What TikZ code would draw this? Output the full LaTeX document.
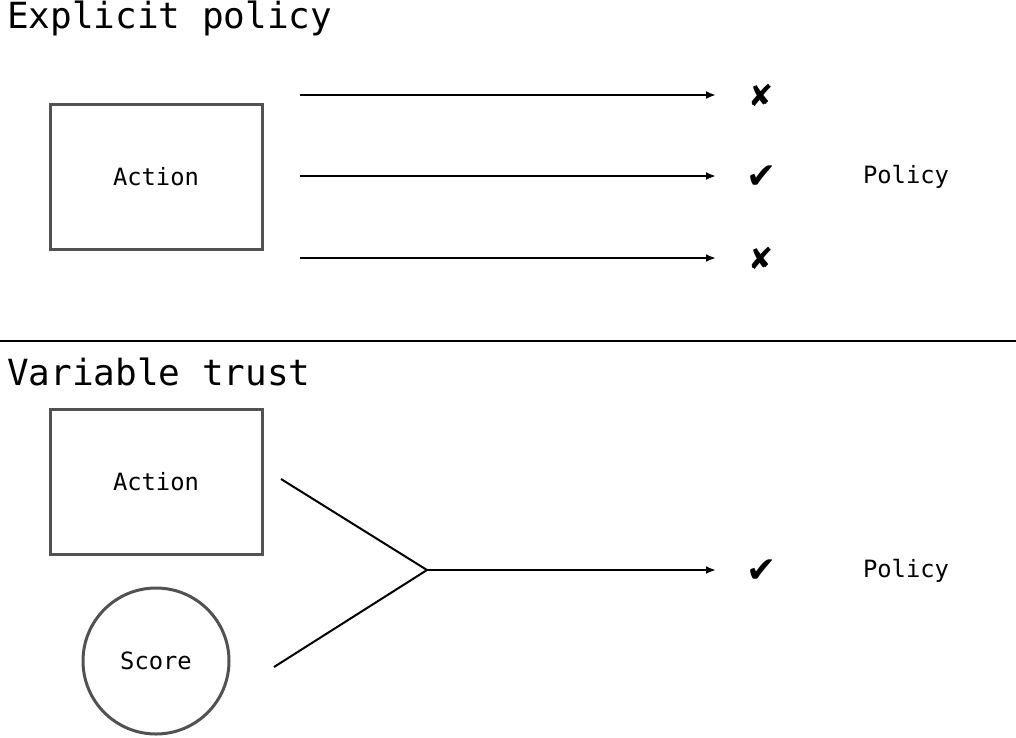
\documentclass[tikz,border=0pt]{standalone}
\usepackage{fontspec}
\setmonofont{DejaVu Sans Mono}
\newfontfamily\markfont{DejaVu Sans}
\usetikzlibrary{arrows.meta,positioning}

\newcommand{\titlefont}{\ttfamily\fontsize{36}{40}\selectfont}
\newcommand{\labfont}{\ttfamily\fontsize{23.8}{28}\selectfont}
\newcommand{\yes}{\markfont\fontsize{36}{38}\selectfont ✔}
\newcommand{\no}{\markfont\fontsize{30}{32}\selectfont ✘}

\begin{document}
\begin{tikzpicture}[x=1pt,y=-1pt,
  sketch/.style={draw=black!68,line width=3pt},
  actbox/.style={sketch,minimum width=212pt,minimum height=145pt,font=\labfont},
  scorering/.style={sketch,circle,minimum size=146pt,font=\labfont},
  heading/.style={anchor=base west,inner sep=0pt,font=\titlefont},
  plain/.style={inner sep=0pt,font=\labfont},
  flow/.style={line width=2pt,-{Latex[length=10pt,width=8pt]}}]
\useasboundingbox (0,0) rectangle (1016,737);

% explicit policy
\node[heading] (t1) at (7,28) {Explicit policy};
\node[actbox] (act1) at (156,177) {Action};
\foreach \i/\y in {1/95,2/176,3/258}{
  \coordinate (s\i) at (300,\y);
  \coordinate (e\i) at (716,\y);
}
\node[inner sep=0pt] (m1) at (761,95) {\no};
\node[inner sep=0pt] (m2) at (762,177) {\yes};
\node[inner sep=0pt] (m3) at (761,258) {\no};
\node[plain] (pol1) at (906,177) {Policy};
\foreach \i in {1,2,3}
  \draw[flow] (s\i) -- (e\i);

% divider
\coordinate (dl) at (0,341);
\coordinate (dr) at (1016,341);
\draw[line width=2pt] (dl) -- (dr);

% variable trust
\node[heading] (t2) at (7,385) {Variable trust};
\node[actbox] (act2) at (156,482) {Action};
\node[scorering] (score) at (156,661) {Score};
\coordinate (a2) at (281,479);
\coordinate (sc) at (274,667);
\coordinate (join) at (427,570);
\coordinate (e4) at (716,570);
\node[inner sep=0pt] (m4) at (762,571) {\yes};
\node[plain] (pol2) at (906,571) {Policy};
\draw[line width=2pt] (a2) -- (join) -- (sc);
\draw[flow] (join) -- (e4);
\end{tikzpicture}
\end{document}
